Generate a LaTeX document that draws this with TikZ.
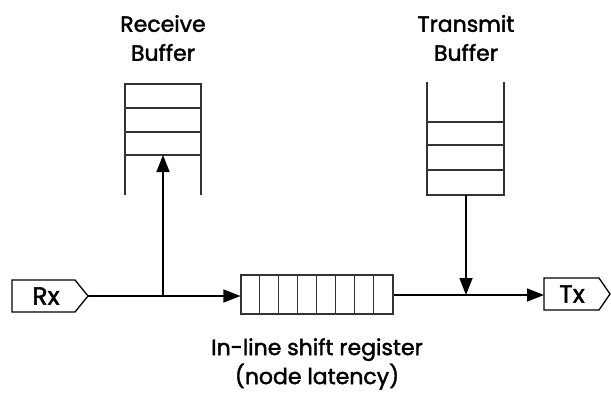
\documentclass[tikz,border=0pt]{standalone}
\usepackage{fontspec}
\setmainfont{Poppins}
\newfontfamily\lblfont{Poppins}[FakeBold=1.8]
\usetikzlibrary{arrows.meta,calc}
\begin{document}
\begin{tikzpicture}[x=1pt,y=-1pt,
  lbl/.style={font=\lblfont\fontsize{22}{29}\selectfont, align=center, inner sep=0pt},
  portlbl/.style={font=\lblfont\fontsize{25}{30}\selectfont, inner sep=0pt},
  boxline/.style={line width=1.1pt, draw=black!80},
  flow/.style={line width=1.5pt, -{Triangle[length=17pt,width=13pt]}},
  port/.style={line width=1.3pt}]
\useasboundingbox (0,0) rectangle (611,397);

% receive buffer: open-bottom stack
\draw[boxline] (125,195) -- (125,84) -- (201,84) -- (201,195);
\foreach \y in {108,132,155} \draw[boxline] (125,\y) -- (201,\y);
\coordinate (rbtop) at (163,155);
\node[lbl] (rblabel) at (163,38) {Receive\\Buffer};

% transmit buffer: open-top stack
\draw[boxline] (427,82) -- (427,195) -- (504,195) -- (504,82);
\foreach \y in {122,145,170} \draw[boxline] (427,\y) -- (504,\y);
\coordinate (tbbot) at (466,195);
\node[lbl] (tblabel) at (466,38) {Transmit\\Buffer};

% Rx and Tx ports
\draw[port] (12,280) -- (75,280) -- (88,296) -- (75,312) -- (12,312) -- cycle;
\node[portlbl] (rx) at (46,296) {Rx};
\coordinate (rxout) at (88,296);
\draw[port] (544,278) -- (599,278) -- (610,294) -- (599,310) -- (544,310) -- cycle;
\node[portlbl] (tx) at (572,294) {Tx};
\coordinate (txin) at (544,295);

% in-line shift register with eight cells
\node[draw=black!80, line width=1.1pt, minimum width=152pt, minimum height=39pt, inner sep=0pt] (reg) at (317,294.5) {};
\foreach \i in {1,...,7} \draw[boxline] ($(reg.north west)+(\i*19,0)$) -- ($(reg.south west)+(\i*19,0)$);
\node[lbl] (reglabel) at (317,364) {In-line shift register\\(node latency)};

% connectors
\coordinate (split) at (163,296);
\coordinate (join) at (466,295);
\draw[flow] (rxout) -- (reg.west |- rxout);
\draw[flow] (split) -- (rbtop);
\draw[line width=1.5pt] (reg.east |- join) -- (join);
\draw[flow] (join) -- (txin);
\draw[flow] (tbbot) -- (join);
\end{tikzpicture}
\end{document}
